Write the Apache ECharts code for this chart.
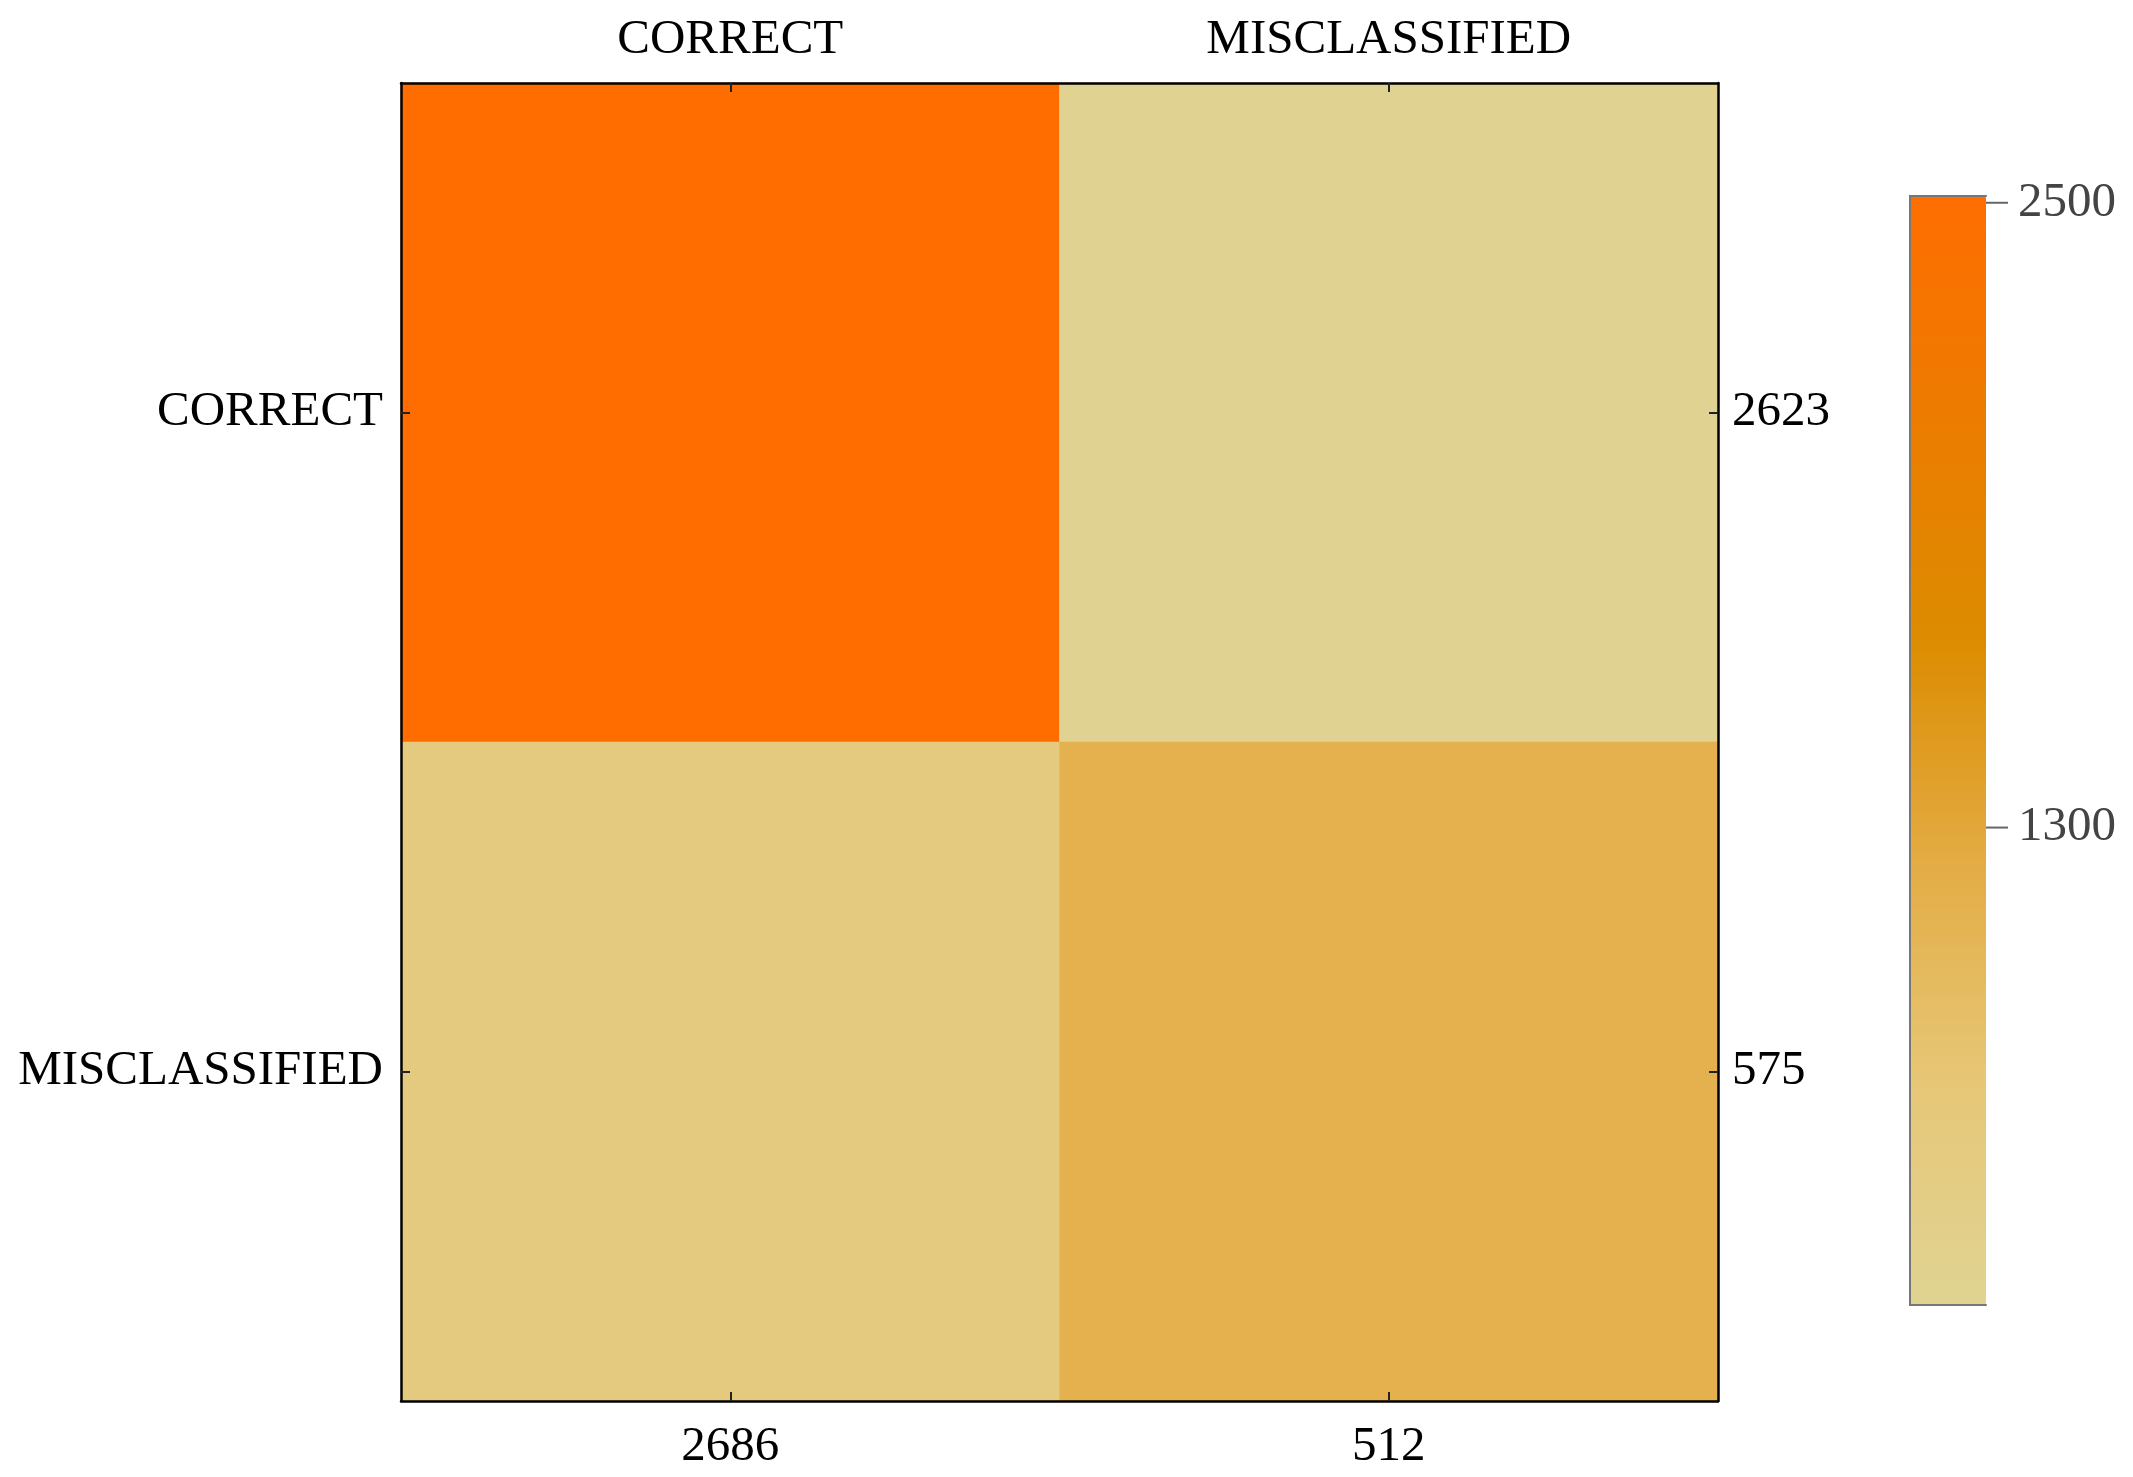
<!DOCTYPE html>
<html style="height: 100%">
<head>
<meta charset="utf-8">
</head>
<body style="height: 100%; margin: 0; background: #fff">
<div id="container" style="width:2133px;height:1477px"></div>
<script src="https://cdn.jsdelivr.net/npm/echarts@6/dist/echarts.min.js"></script>
<script type="text/javascript">
// categories and tick labels
var colLabels = ['CORRECT', 'MISCLASSIFIED'];
var rowLabels = ['CORRECT', 'MISCLASSIFIED'];
var colTotals = ['2686', '512'];
var rowTotals = ['2623', '575'];
// cell values, one row per array
var rowCorrect = [2513, 390];
var rowMisclassified = [700, 1150];
// colour bar
var legendMin = 383;
var legendMax = 2513;
var legendTicks = [1300, 2500];
var legendColors = ['#e0d392', '#e6c777', '#e3ac44', '#dc8c00', '#ec7c00', '#ff6d00'];

var dom = document.getElementById('container');
var myChart = echarts.init(dom);

var cells = [];
[rowCorrect, rowMisclassified].forEach(function (row, y) {
    row.forEach(function (v, x) {
        cells.push([x, y, v]);
    });
});

var font = "'Liberation Serif', 'Times New Roman', serif";
var frameLine = { show: true, lineStyle: { color: '#000', width: 2.5 } };
var catTick = { show: true, inside: true, length: 9, alignWithLabel: true, lineStyle: { color: '#222', width: 2 } };
var barEdge = { show: true, lineStyle: { color: '#777', width: 2 } };

var option = {
    backgroundColor: '#fff',
    animation: false,
    grid: [
        { left: 401, top: 83, width: 1317, height: 1318 },
        { left: 1910, top: 196, width: 76, height: 1109 }
    ],
    xAxis: [
        { type: 'category', gridIndex: 0, position: 'top', data: colLabels, z: 10,
          axisLine: frameLine, axisTick: catTick,
          axisLabel: { fontFamily: font, fontSize: 49, color: '#000', margin: 18 } },
        { type: 'category', gridIndex: 0, position: 'bottom', data: colTotals, z: 10,
          axisLine: frameLine, axisTick: catTick,
          axisLabel: { fontFamily: font, fontSize: 49, color: '#000', margin: 22 } },
        { type: 'value', gridIndex: 1, position: 'bottom', min: 0, max: 1, z: 10,
          axisLine: barEdge, axisTick: { show: false }, axisLabel: { show: false }, splitLine: { show: false } },
        { type: 'value', gridIndex: 1, position: 'top', min: 0, max: 1, z: 10,
          axisLine: barEdge, axisTick: { show: false }, axisLabel: { show: false }, splitLine: { show: false } }
    ],
    yAxis: [
        { type: 'category', gridIndex: 0, position: 'left', inverse: true, data: rowLabels, z: 10,
          axisLine: frameLine, axisTick: catTick,
          axisLabel: { fontFamily: font, fontSize: 49, color: '#000', margin: 18 } },
        { type: 'category', gridIndex: 0, position: 'right', inverse: true, data: rowTotals, z: 10,
          axisLine: frameLine, axisTick: catTick,
          axisLabel: { fontFamily: font, fontSize: 49, color: '#000', margin: 14 } },
        { type: 'value', gridIndex: 1, position: 'right', min: legendMin, max: legendMax, z: 10,
          splitLine: { show: false },
          axisLine: barEdge,
          axisTick: { show: false },
          axisLabel: {
              margin: 0, customValues: legendTicks,
              formatter: function (v) { return '{t|}{s|}{v|' + v + '}'; },
              rich: {
                  t: { width: 22, height: 2, backgroundColor: '#666' },
                  s: { width: 10, height: 2 },
                  v: { fontFamily: font, fontSize: 49, color: '#444' }
              }
          } },
        { type: 'value', gridIndex: 1, position: 'left', min: legendMin, max: legendMax, z: 10,
          splitLine: { show: false },
          axisLine: barEdge, axisTick: { show: false }, axisLabel: { show: false } }
    ],
    visualMap: {
        type: 'continuous',
        seriesIndex: 0,
        min: legendMin,
        max: legendMax,
        calculable: false,
        left: 1910,
        top: 196,
        padding: 0,
        itemWidth: 76,
        itemHeight: 1109,
        text: null,
        showLabel: false,
        inRange: { color: legendColors }
    },
    series: [
        {
            type: 'heatmap',
            xAxisIndex: 0,
            yAxisIndex: 0,
            data: cells,
            itemStyle: { borderWidth: 0 },
            label: { show: false },
            emphasis: { disabled: true }
        }
    ]
};

myChart.setOption(option);
</script>
</body>
</html>
